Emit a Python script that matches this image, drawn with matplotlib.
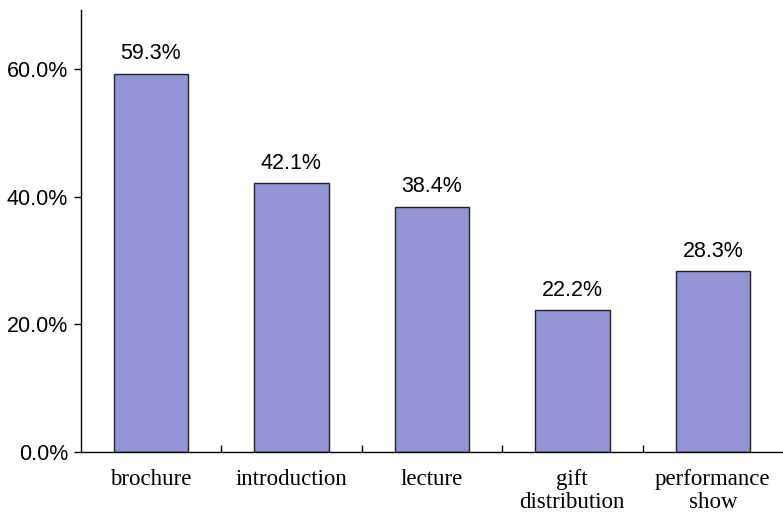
import numpy as np
import matplotlib.pyplot as plt
from matplotlib.ticker import FuncFormatter

categories = ['brochure', 'introduction', 'lecture', 'gift\ndistribution', 'performance\nshow']
values = [59.3, 42.1, 38.4, 22.2, 28.3]

fig = plt.figure(figsize=(7.83, 5.14), dpi=100)
ax = fig.add_axes([0.103, 0.1206, 0.897, 0.86])

x = np.arange(len(categories))
bars = ax.bar(x, values, width=0.53, color='#9494d4', edgecolor='#222222', linewidth=1.0)

for b, v in zip(bars, values):
    ax.annotate(f'{v:.1f}%', (b.get_x() + b.get_width() / 2, v),
                xytext=(0, 7), textcoords='offset points',
                ha='center', va='bottom', fontsize=15.5, family='Liberation Sans')

ax.set_xlim(-0.5, 4.5)
ax.set_ylim(0, 69.3)
ax.set_yticks([0, 20, 40, 60])
ax.yaxis.set_major_formatter(FuncFormatter(lambda v, p: f'{v:.1f}%'))
for lab in ax.get_yticklabels():
    lab.set_family('Liberation Sans')
    lab.set_fontsize(15.5)
ax.tick_params(axis='y', direction='out', length=5, width=1, pad=4)

# category labels centred, tick marks on the boundaries
ax.set_xticks(x)
ax.set_xticklabels(categories, family='Liberation Serif', fontsize=16.5, linespacing=1.15)
ax.tick_params(axis='x', which='major', length=0, pad=12)
ax.set_xticks(x[:-1] + 0.5, minor=True)
ax.tick_params(axis='x', which='minor', direction='in', length=5, width=1)

for s in ['top', 'right']:
    ax.spines[s].set_visible(False)
for s in ['left', 'bottom']:
    ax.spines[s].set_linewidth(1.0)

fig.savefig('out.png', dpi=100)
